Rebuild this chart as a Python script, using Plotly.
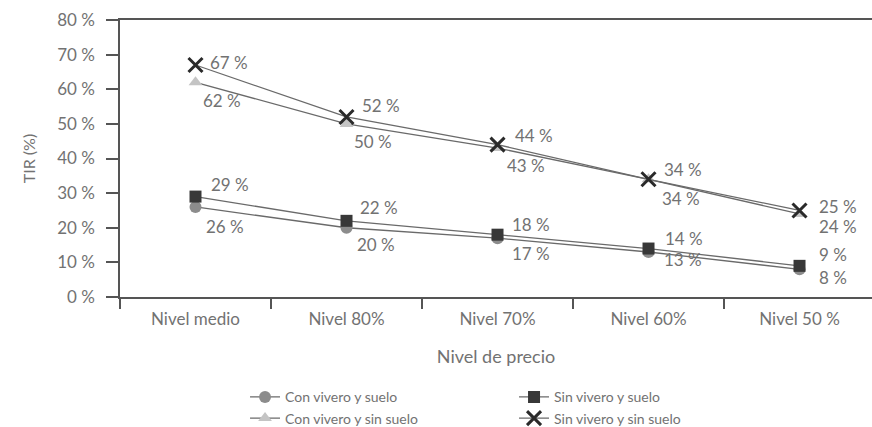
import plotly.graph_objects as go

# Price levels (x categories)
niveles = ["Nivel medio", "Nivel 80%", "Nivel 70%", "Nivel 60%", "Nivel 50 %"]

# TIR (%) for each scenario
con_vivero_suelo = [26, 20, 17, 13, 8]
sin_vivero_suelo = [29, 22, 18, 14, 9]
con_vivero_sin_suelo = [62, 50, 43, 34, 24]
sin_vivero_sin_suelo = [67, 52, 44, 34, 25]

y_ticks = [0, 10, 20, 30, 40, 50, 60, 70, 80]

FONT = "Lato, sans-serif"
TXT = "#727272"

series = [
    dict(name="Con vivero y suelo", y=con_vivero_suelo,
         marker=dict(symbol="circle", size=12, color="#8c8c8c")),
    dict(name="Sin vivero y suelo", y=sin_vivero_suelo,
         marker=dict(symbol="square", size=12, color="#383838")),
    dict(name="Con vivero y sin suelo", y=con_vivero_sin_suelo,
         marker=dict(symbol="triangle-up", size=12, color="#c4c4c4")),
    dict(name="Sin vivero y sin suelo", y=sin_vivero_sin_suelo,
         marker=dict(symbol="x-thin", size=14, color="#2a2a2a",
                     line=dict(width=3, color="#2a2a2a"))),
]

# label offsets in pixels (dx, dy up) per point, per series
label_offsets = {
    "Con vivero y suelo": [(8, -20), (8, -17), (12, -15), (13, -8), (17, -8)],
    "Sin vivero y suelo": [(13, 12), (11, 13), (12, 10), (14, 10), (17, 11)],
    "Con vivero y sin suelo": [(5, -18), (5, -18), (7, -17), (11, -19), (17, -13)],
    "Sin vivero y sin suelo": [(12, 3), (13, 11), (15, 9), (13, 10), (17, 4)],
}

fig = go.Figure()
annotations = []
for s in series:
    fig.add_trace(go.Scatter(
        x=niveles, y=s["y"], name=s["name"], mode="lines+markers",
        line=dict(color="#6a6a6a", width=1.3),
        marker=s["marker"],
    ))
    for xi, yi, (dx, dy) in zip(niveles, s["y"], label_offsets[s["name"]]):
        annotations.append(dict(
            x=xi, y=yi, text=f"{yi} %", showarrow=False,
            xanchor="left", yanchor="middle", xshift=dx, yshift=dy,
            font=dict(family=FONT, size=17, color=TXT),
        ))

fig.update_layout(
    width=872, height=427,
    margin=dict(l=120, r=0, t=20, b=130),
    paper_bgcolor="white", plot_bgcolor="white",
    font=dict(family=FONT, color=TXT),
    annotations=annotations,
    showlegend=True,
    legend=dict(
        orientation="h", xref="container", yref="container",
        x=0.281, y=0.107, xanchor="left", yanchor="top",
        entrywidth=224, entrywidthmode="pixels",
        font=dict(family=FONT, size=14, color=TXT),
        traceorder="normal", tracegroupgap=0,
    ),
    xaxis=dict(
        type="category", range=[-0.5, 4.48],
        showline=True, linecolor="#555555", linewidth=1.5, mirror=True,
        ticks="outside", tickson="boundaries", ticklen=10, tickwidth=1.5,
        tickcolor="#555555", showgrid=False, ticklabelstandoff=6,
        tickfont=dict(family=FONT, size=17, color=TXT),
        title=dict(text="Nivel de precio", standoff=22,
                   font=dict(family=FONT, size=18, color=TXT)),
    ),
    yaxis=dict(
        range=[0, 80], tickvals=y_ticks,
        ticktext=[f"{v} %" for v in y_ticks],
        showline=True, linecolor="#555555", linewidth=1.5,
        ticks="outside", ticklen=12, tickwidth=1.5, tickcolor="#555555",
        showgrid=False, zeroline=False, ticklabelstandoff=8,
        tickfont=dict(family=FONT, size=17, color=TXT),
        title=dict(text="TIR (%)", standoff=18,
                   font=dict(family=FONT, size=16, color=TXT)),
    ),
)

fig.write_html("out.html")
